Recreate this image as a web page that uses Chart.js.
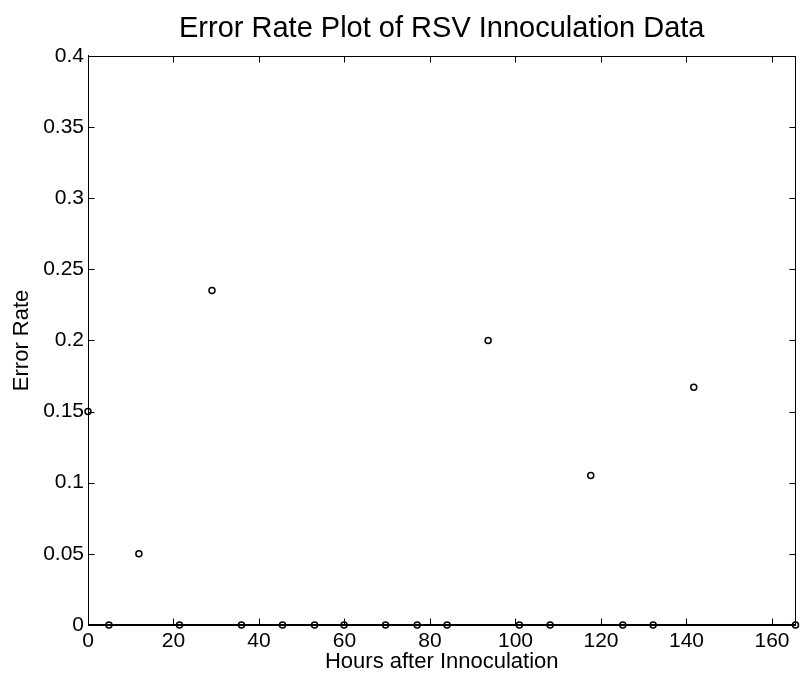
<!DOCTYPE html>
<html>
<head>
<meta charset="utf-8">
<script src="https://cdn.jsdelivr.net/npm/chart.js@4/dist/chart.umd.min.js"></script>
<style>
  html, body { margin: 0; padding: 0; background: #fff; }
  #wrap { width: 801px; height: 679px; }
</style>
</head>
<body>
<div id="wrap"><canvas id="errChart" width="801" height="679"></canvas></div>
<script>
// hours after innoculation vs. error rate
const hours = [0, 4.9, 11.9, 21.4, 29.0, 35.9, 45.5, 53.0, 59.9, 69.6, 77.0, 84.0, 93.6, 100.9, 108.1, 117.6, 125.1, 132.2, 141.7, 165.5];
const errorRate = [0.15, 0, 0.05, 0, 0.235, 0, 0, 0, 0, 0, 0, 0, 0.2, 0, 0, 0.105, 0, 0, 0.167, 0];

const xTickStep = 20;
const yTickStep = 0.05;
const yMax = 0.4;

const FONT = '"Liberation Sans", Arial, Helvetica, sans-serif';

// MATLAB style box: frame on all sides, ticks pointing inwards
const boxPlugin = {
    id: 'matlabBox',
    afterDatasetsDraw(chart) {
        const ctx = chart.ctx;
        const area = chart.chartArea;
        const xs = chart.scales.x;
        const ys = chart.scales.y;
        const len = 6;
        const l = Math.round(area.left) + 0.5;
        const r = Math.round(area.right) - 0.5;
        const t = Math.round(area.top) + 0.5;
        const b = Math.round(area.bottom) - 0.5;

        ctx.save();
        ctx.strokeStyle = '#000';
        ctx.lineWidth = 1;
        ctx.beginPath();
        xs.ticks.forEach(tk => {
            const px = Math.round(xs.getPixelForValue(tk.value)) + 0.5;
            ctx.moveTo(px, b); ctx.lineTo(px, b - len);
            ctx.moveTo(px, t); ctx.lineTo(px, t + len);
        });
        ys.ticks.forEach(tk => {
            const py = Math.round(ys.getPixelForValue(tk.value)) + 0.5;
            ctx.moveTo(l, py); ctx.lineTo(l + len, py);
            ctx.moveTo(r, py); ctx.lineTo(r - len, py);
        });
        ctx.stroke();
        ctx.strokeRect(l, t, r - l, b - t);
        ctx.restore();
    }
};

new Chart(document.getElementById('errChart').getContext('2d'), {
    type: 'scatter',
    data: {
        datasets: [{
            label: 'Error Rate',
            data: hours.map((h, i) => ({ x: h, y: errorRate[i] })),
            showLine: false,
            pointStyle: 'circle',
            pointRadius: 3,
            pointBorderWidth: 1.5,
            pointBorderColor: '#000',
            pointBackgroundColor: 'rgba(0,0,0,0)',
            clip: false
        }]
    },
    options: {
        responsive: false,
        devicePixelRatio: 1,
        animation: false,
        layout: { padding: { top: 5, right: 4, left: 0, bottom: 0 } },
        plugins: {
            legend: { display: false },
            tooltip: { enabled: false },
            title: {
                display: true,
                fullSize: false, // center over the axes, like MATLAB
                text: 'Error Rate Plot of RSV Innoculation Data',
                color: '#000',
                font: { family: FONT, size: 29, weight: 'normal' },
                padding: { top: 7, bottom: 9 }
            }
        },
        scales: {
            x: {
                type: 'linear',
                min: 0,
                max: hours[hours.length - 1],
                grid: { display: false, drawTicks: false },
                border: { display: true, color: '#000', width: 1 },
                ticks: {
                    stepSize: xTickStep,
                    color: '#000',
                    padding: 4,
                    maxRotation: 0,
                    font: { family: FONT, size: 21 },
                    includeBounds: false
                },
                title: {
                    display: true,
                    text: 'Hours after Innoculation',
                    color: '#000',
                    font: { family: FONT, size: 22 },
                    padding: { top: 0, bottom: 4 }
                },
                afterFit(scale) { scale.height = 54; }
            },
            y: {
                min: 0,
                max: yMax,
                grid: { display: false, drawTicks: false },
                border: { display: true, color: '#000', width: 1 },
                ticks: {
                    stepSize: yTickStep,
                    color: '#000',
                    padding: 4,
                    font: { family: FONT, size: 21 },
                    callback: v => String(Math.round(v * 100) / 100)
                },
                title: {
                    display: true,
                    text: 'Error Rate',
                    color: '#000',
                    font: { family: FONT, size: 22 },
                    padding: { top: 9, bottom: 0 }
                },
                afterFit(scale) { scale.width = 88; }
            }
        }
    },
    plugins: [boxPlugin]
});
</script>
</body>
</html>
